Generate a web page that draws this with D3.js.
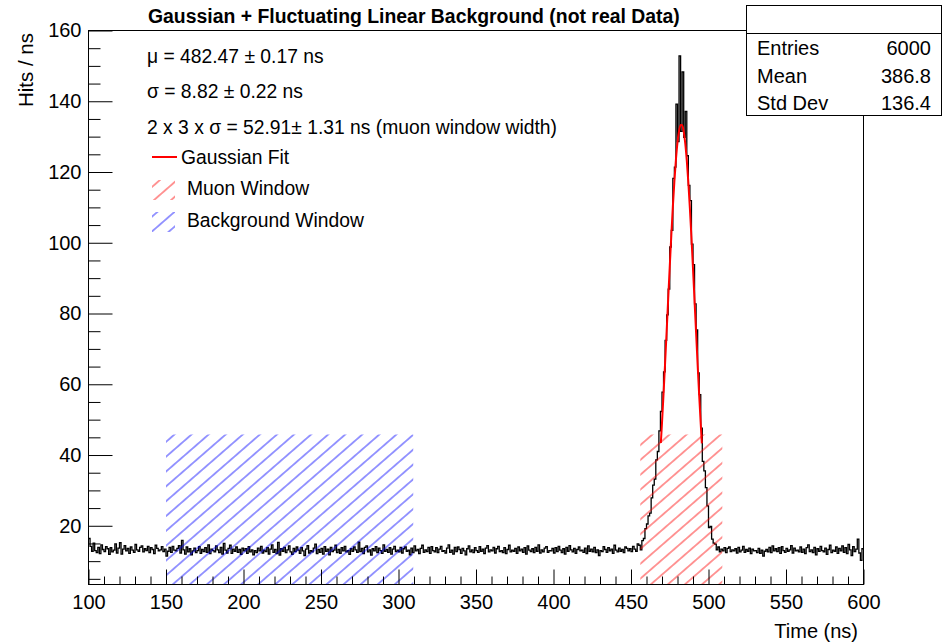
<!DOCTYPE html>
<html>
<head>
<meta charset="utf-8">
<script src="https://cdn.jsdelivr.net/npm/d3@7"></script>
<style>
  body { margin: 0; background: #fff; }
  svg { display: block; }
  text { font-family: "Liberation Sans", Arial, Helvetica, sans-serif; fill: #000; }
</style>
</head>
<body>
<div id="chart"></div>
<script>
var hitsStart = 100, binWidth = 1;
var hitsBefore = [ // 100 .. 454 ns
  16.4, 14.2, 12.8, 15.1, 13.0, 12.4, 13.9, 12.1, 14.6, 13.3, 12.7, 14.1, 13.5, 11.9, 13.8, 12.6, 13.1, 14.9, 12.3, 13.7, 15.2, 12.0, 13.4, 14.4, 12.9,
  13.6, 12.2, 14.0, 13.1, 12.5, 14.7, 13.2, 12.8, 13.9, 14.3, 12.6, 13.5, 13.0, 14.2, 12.4, 13.8, 13.3, 12.1, 14.5, 13.6, 12.9, 13.2, 14.1, 12.7, 13.4,
  11.4, 12.8, 13.9, 12.5, 14.2, 13.1, 12.9, 13.6, 14.4, 12.3, 15.9, 13.2, 12.0, 14.0, 12.6, 13.5, 11.8, 12.9, 13.7, 12.4, 13.0, 14.1, 12.2, 13.3, 12.7,
  13.8, 12.5, 14.6, 12.1, 13.4, 13.0, 12.6, 14.3, 13.2, 12.4, 13.9, 12.0, 15.0, 13.1, 12.3, 13.6, 14.5, 12.2, 13.4, 12.8, 14.0, 12.5, 13.3, 11.9, 13.7,
  12.9, 13.5, 12.2, 14.1, 12.6, 13.2, 11.8, 13.0, 12.4, 13.7, 12.9, 14.2, 12.3, 13.1, 12.7, 13.8, 12.0, 13.4, 14.6, 12.5, 13.3, 12.1, 15.3, 11.7, 13.5,
  12.8, 13.9, 12.4, 13.2, 14.3, 12.6, 11.9, 13.6, 12.7, 14.0, 13.1, 12.2, 13.8, 12.9, 11.6, 13.4, 14.4, 12.3, 13.0, 12.6, 13.7, 14.8, 12.1, 13.3, 12.5,
  13.6, 12.0, 14.1, 12.8, 13.4, 11.8, 13.9, 12.7, 13.1, 14.5, 12.4, 13.3, 12.2, 13.8, 12.9, 14.2, 12.6, 13.0, 11.9, 13.5, 12.8, 14.0, 13.2, 12.5, 15.4,
  12.7, 13.6, 12.1, 13.9, 14.3, 12.6, 13.2, 11.7, 13.5, 12.9, 14.1, 12.4, 13.7, 13.0, 12.2, 14.6, 12.8, 13.3, 12.5, 13.8, 12.0, 13.4, 14.2, 12.7, 13.1,
  12.6, 13.9, 12.3, 13.5, 14.0, 12.8, 13.1, 11.8, 13.7, 12.4, 14.3, 12.9, 13.3, 12.1, 13.6, 14.5, 12.5, 13.2, 12.7, 13.9, 12.2, 14.1, 13.0, 12.6, 13.8,
  12.4, 13.4, 14.2, 12.8, 13.0, 12.3, 13.7, 14.6, 12.5, 13.1, 12.0, 13.9, 12.7, 14.0, 13.3, 12.2, 13.6, 12.9, 11.8, 13.5, 14.3, 12.6, 13.2, 12.4, 13.8,
  13.0, 12.5, 14.1, 12.8, 13.4, 12.1, 13.7, 14.4, 12.6, 13.2, 12.9, 13.9, 12.3, 13.5, 14.2, 12.7, 13.0, 12.4, 13.8, 12.1, 13.3, 14.5, 12.6, 13.1, 12.8,
  13.6, 12.2, 14.0, 12.9, 13.4, 12.5, 13.8, 12.0, 14.3, 13.1, 12.7, 13.5, 12.4, 13.9, 12.8, 14.6, 12.3, 13.2, 12.6, 13.7, 14.1, 12.5, 13.0, 12.9, 13.6,
  12.3, 13.8, 12.7, 14.2, 13.1, 12.4, 13.5, 12.0, 13.9, 12.8, 14.4, 13.2, 12.6, 13.6, 12.2, 13.3, 14.0, 12.9, 13.1, 12.5, 13.7, 12.1, 14.3, 12.8, 13.4,
  12.6, 13.9, 12.4, 13.2, 11.6, 13.0, 12.7, 14.1, 13.3, 12.5, 13.8, 12.9, 13.4, 12.2, 14.5, 13.1, 12.6, 13.7, 12.8, 13.3, 12.4, 14.0, 13.6, 12.9, 13.5,
  12.7, 14.2, 13.4, 12.8, 14.9
];
var hitsPeak = [ // 455 .. 509 ns
  14.5, 13.2, 15.8, 16.4, 19.2, 20.5, 22.8, 23.6, 27.9, 31.5,
  33.2, 38.6, 41.0, 46.8, 52.3, 57.8, 63.5, 72.4, 79.6, 86.9,
  98.8, 103.5, 118.2, 121.4, 139.2, 128.6, 152.8, 131.5, 148.3, 129.8,
  137.1, 124.6, 116.2, 111.9, 99.6, 93.8, 82.7, 75.4, 63.2, 57.1,
  47.6, 38.2, 35.5, 30.8, 25.6, 19.5, 19.8, 16.2, 15.1, 14.8,
  13.2, 14.0, 12.6, 13.4, 12.9
];
var hitsAfter = [ // 510 .. 599 ns
  13.8, 12.4, 13.6, 14.0, 12.7, 13.2, 12.9, 13.5, 12.3, 13.9, 12.6, 13.1, 14.2, 12.5, 13.3, 12.8, 13.7, 12.1, 13.4, 12.9, 13.0, 12.4, 13.6, 12.2, 13.1,
  11.4, 12.8, 13.3, 12.6, 13.9, 12.4, 14.3, 12.9, 13.5, 12.7, 13.8, 12.2, 14.1, 13.0, 12.5, 13.6, 12.8, 13.2, 14.4, 12.3, 13.7, 12.9, 13.1, 12.6, 14.0,
  12.5, 13.4, 12.1, 13.8, 14.6, 12.7, 13.2, 12.4, 13.9, 11.8, 13.5, 12.8, 14.2, 13.0, 12.6, 13.7, 11.9, 13.3, 14.5, 12.4, 13.1, 12.8, 14.0, 12.2, 13.6,
  12.9, 14.3, 12.5, 13.8, 12.1, 14.7, 13.2, 11.6, 14.1, 12.7, 13.4, 16.2, 12.3, 10.2, 13.5
];

// gaussian fit curve
var fitTime = [469.25, 470, 471, 472, 473, 474, 475, 476, 477, 478, 479, 480, 481, 482,
  483, 484, 485, 486, 487, 488, 489, 490, 491, 492, 493, 494, 495, 495.7];
var fitValue = [43.4, 49.1, 57.3, 66.0, 75.0, 84.2, 93.3, 102.0, 110.2, 117.4, 123.6, 128.4, 131.6, 133.3,
  133.3, 131.5, 128.1, 123.2, 117.0, 109.6, 101.5, 92.7, 83.6, 74.5, 65.4, 56.8, 48.7, 43.3];

// hatched windows (ns) and their height (hits)
var windowNames = ["Muon Window", "Background Window"];
var windowFrom = [456.0, 150.0];
var windowTo = [508.9, 309.5];
var windowColors = ["#ff0000", "#0000ff"];
var windowTop = 45.8;

var xTicks = [100, 150, 200, 250, 300, 350, 400, 450, 500, 550, 600];
var yTicks = [20, 40, 60, 80, 100, 120, 140, 160];

var statNames = ["Entries", "Mean", "Std Dev"];
var statValues = ["6000", "386.8", "136.4"];

var fitLines = [
  "\u03bc = 482.47 \u00b1 0.17 ns",
  "\u03c3 = 8.82 \u00b1 0.22 ns",
  "2 x 3 x \u03c3 = 52.91\u00b1 1.31 ns (muon window width)"
];

var width = 946, height = 644;

var svg = d3.select("#chart").append("svg")
    .attr("width", width)
    .attr("height", height);

var x = d3.scaleLinear().domain([100, 600]).range([88.5, 863.5]);
var y = d3.scaleLinear().domain([3.4, 160]).range([584.5, 30.5]);

// hatch patterns
var defs = svg.append("defs");
windowColors.forEach(function (c, i) {
    var p = defs.append("pattern")
        .attr("id", "hatch" + i)
        .attr("patternUnits", "userSpaceOnUse")
        .attr("width", 12)
        .attr("height", 11.2)
        .attr("patternTransform", "rotate(-41)");
    p.append("line")
        .attr("x1", 0).attr("x2", 12)
        .attr("y1", 5.6).attr("y2", 5.6)
        .attr("stroke", c)
        .attr("stroke-width", 1)
        .attr("stroke-opacity", 0.8);
});

// histogram
var bins = [];
hitsBefore.concat(hitsPeak, hitsAfter).forEach(function (v, i) {
    bins.push({t: hitsStart + i * binWidth, v: v});
});
bins.push({t: hitsStart + bins.length * binWidth, v: bins[bins.length - 1].v});

var histLine = d3.line()
    .x(function (d) { return x(d.t); })
    .y(function (d) { return y(d.v); })
    .curve(d3.curveStepAfter);

svg.append("path")
    .datum(bins)
    .attr("d", histLine)
    .attr("fill", "none")
    .attr("stroke", "#000")
    .attr("stroke-width", 1.3);

// windows
windowNames.forEach(function (n, i) {
    svg.append("rect")
        .attr("x", x(windowFrom[i]))
        .attr("y", y(windowTop))
        .attr("width", x(windowTo[i]) - x(windowFrom[i]))
        .attr("height", y(3.4) - y(windowTop))
        .attr("fill", "url(#hatch" + i + ")");
});

// fit
var fitLine = d3.line()
    .x(function (d, i) { return x(fitTime[i]); })
    .y(function (d) { return y(d); })
    .curve(d3.curveMonotoneX);

svg.append("path")
    .datum(fitValue)
    .attr("d", fitLine)
    .attr("fill", "none")
    .attr("stroke", "#ff0000")
    .attr("stroke-width", 2);

// axes
var yMinor = d3.range(5, 160, 5).filter(function (v) { return v % 20 != 0 && v > 3.4; });
var xMinor = d3.range(110, 600, 10).filter(function (v) { return v % 50 != 0; });

var gy = svg.append("g").attr("transform", "translate(88.5,0)")
    .call(d3.axisLeft(y).tickValues(yTicks).tickSizeInner(-24).tickSizeOuter(0).tickPadding(7).tickFormat(d3.format("d")));
var gy2 = svg.append("g").attr("transform", "translate(88.5,0)")
    .call(d3.axisLeft(y).tickValues(yMinor).tickSizeInner(-12).tickSizeOuter(0).tickFormat(""));
var gx = svg.append("g").attr("transform", "translate(0,584.5)")
    .call(d3.axisBottom(x).tickValues(xTicks).tickSizeInner(-15).tickSizeOuter(0).tickPadding(10).tickFormat(d3.format("d")));
var gx2 = svg.append("g").attr("transform", "translate(0,584.5)")
    .call(d3.axisBottom(x).tickValues(xMinor).tickSizeInner(-8).tickSizeOuter(0).tickFormat(""));

[gy, gy2, gx, gx2].forEach(function (g) {
    g.select(".domain").remove();
    g.selectAll("line").attr("stroke", "#000");
    g.selectAll("text")
        .style("font-family", "'Liberation Sans', Arial, Helvetica, sans-serif")
        .style("font-size", "20px")
        .attr("fill", "#000");
});

// frame
svg.append("rect")
    .attr("x", 88.5).attr("y", 30.5)
    .attr("width", 775).attr("height", 554)
    .attr("fill", "none")
    .attr("stroke", "#000")
    .attr("stroke-width", 1);

// axis titles
svg.append("text")
    .attr("transform", "translate(33,33) rotate(-90)")
    .attr("text-anchor", "end")
    .style("font-size", "20.5px")
    .text("Hits / ns");

svg.append("text")
    .attr("x", 858).attr("y", 638)
    .attr("text-anchor", "end")
    .style("font-size", "20px")
    .text("Time (ns)");

// title
svg.append("text")
    .attr("x", 148).attr("y", 23)
    .style("font-size", "19.4px")
    .style("font-weight", "bold")
    .text("Gaussian + Fluctuating Linear Background (not real Data)");

// stats box
var stats = svg.append("g");
stats.append("rect")
    .attr("x", 746.5).attr("y", 5.5)
    .attr("width", 195).attr("height", 110)
    .attr("fill", "#fff")
    .attr("stroke", "#000");
stats.append("line")
    .attr("x1", 746.5).attr("x2", 941.5)
    .attr("y1", 33.5).attr("y2", 33.5)
    .attr("stroke", "#000");
statNames.forEach(function (n, i) {
    stats.append("text")
        .attr("x", 757).attr("y", 55 + i * 27.5)
        .style("font-size", "20px")
        .text(n);
    stats.append("text")
        .attr("x", 931).attr("y", 55 + i * 27.5)
        .attr("text-anchor", "end")
        .style("font-size", "20px")
        .text(statValues[i]);
});

// legend
var leg = svg.append("g");
fitLines.forEach(function (s, i) {
    leg.append("text")
        .attr("x", 147).attr("y", [63, 98, 134][i])
        .style("font-size", "19.3px")
        .text(s);
});
leg.append("line")
    .attr("x1", 152).attr("x2", 177)
    .attr("y1", 157).attr("y2", 157)
    .attr("stroke", "#ff0000")
    .attr("stroke-width", 2);
leg.append("text")
    .attr("x", 181).attr("y", 164)
    .style("font-size", "19.3px")
    .text("Gaussian Fit");
windowNames.forEach(function (n, i) {
    var top = 180 + i * 32;
    leg.append("rect")
        .attr("x", 152).attr("y", top)
        .attr("width", 23).attr("height", 20)
        .attr("fill", "url(#hatch" + i + ")");
    leg.append("text")
        .attr("x", 187).attr("y", top + 15)
        .style("font-size", "19.3px")
        .text(n);
});
</script>
</body>
</html>
